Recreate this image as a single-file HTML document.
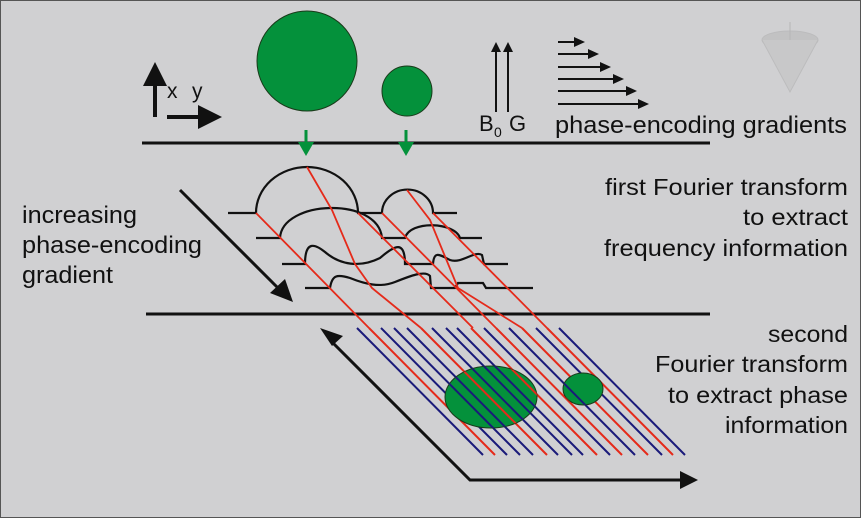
<!DOCTYPE html>
<html><head><style>
html,body{margin:0;padding:0;background:#d0d0d2;}
svg{display:block;}
text{font-family:"Liberation Sans",Arial,sans-serif;fill:#111;}
</style></head><body>
<svg width="861" height="518" viewBox="0 0 861 518" xmlns="http://www.w3.org/2000/svg">
<defs>
<marker id="ah" markerWidth="6" markerHeight="6" refX="5" refY="3" orient="auto" markerUnits="strokeWidth"><path d="M0,0 L6,3 L0,6 z" fill="#111"/></marker>
</defs>
<rect x="0.5" y="0.5" width="860" height="517" fill="#d0d0d2" stroke="#555" stroke-width="1"/>

<line x1="155" y1="117" x2="155" y2="66" stroke="#111" stroke-width="4" marker-end="url(#ah)"/>
<line x1="167" y1="117" x2="218" y2="117" stroke="#111" stroke-width="4" marker-end="url(#ah)"/>
<text x="167" y="98" font-size="21">x</text>
<text x="192" y="98" font-size="21">y</text>

<circle cx="307" cy="61" r="50" fill="#04913b" stroke="#1a3a1a" stroke-width="1"/>
<circle cx="407" cy="91" r="25" fill="#04913b" stroke="#1a3a1a" stroke-width="1"/>

<line x1="142" y1="143" x2="710" y2="143" stroke="#111" stroke-width="3"/>
<line x1="306" y1="130" x2="306" y2="146" stroke="#04913b" stroke-width="3"/>
<path d="M298,142 L314,142 L306,156 z" fill="#04913b"/>
<line x1="406" y1="130" x2="406" y2="146" stroke="#04913b" stroke-width="3"/>
<path d="M398,142 L414,142 L406,156 z" fill="#04913b"/>

<line x1="496" y1="112" x2="496" y2="48" stroke="#111" stroke-width="2"/>
<path d="M491,52 L496,42 L501,52 z" fill="#111"/>
<line x1="508" y1="112" x2="508" y2="48" stroke="#111" stroke-width="2"/>
<path d="M503,52 L508,42 L513,52 z" fill="#111"/>
<text x="479" y="131" font-size="22">B</text>
<text x="494" y="137" font-size="14">0</text>
<text x="509" y="131" font-size="22">G</text>

<g stroke="#111" stroke-width="2" fill="#111">
<line x1="558" y1="42" x2="576" y2="42"/><path d="M574,37 L585,42 L574,47 z" stroke="none"/>
<line x1="558" y1="54" x2="590" y2="54"/><path d="M588,49 L599,54 L588,59 z" stroke="none"/>
<line x1="558" y1="67" x2="602" y2="67"/><path d="M600,62 L611,67 L600,72 z" stroke="none"/>
<line x1="558" y1="79" x2="615" y2="79"/><path d="M613,74 L624,79 L613,84 z" stroke="none"/>
<line x1="558" y1="91" x2="628" y2="91"/><path d="M626,86 L637,91 L626,96 z" stroke="none"/>
<line x1="558" y1="104" x2="640" y2="104"/><path d="M638,99 L649,104 L638,109 z" stroke="none"/>
</g>
<text x="555" y="133" font-size="24" textLength="292" lengthAdjust="spacingAndGlyphs">phase-encoding gradients</text>

<g opacity="0.35" stroke="#999" fill="#aaa">
<ellipse cx="790" cy="40" rx="28" ry="9"/>
<path d="M762,40 L790,92 L818,40" fill="#bbb"/>
<line x1="790" y1="40" x2="790" y2="22" stroke="#888"/>
</g>

<g font-size="23" text-anchor="end" lengthAdjust="spacingAndGlyphs">
<text x="848" y="195" textLength="243" lengthAdjust="spacingAndGlyphs">first Fourier transform</text>
<text x="848" y="225" textLength="105" lengthAdjust="spacingAndGlyphs">to extract</text>
<text x="848" y="256" textLength="244" lengthAdjust="spacingAndGlyphs">frequency information</text>
<text x="848" y="342" textLength="80" lengthAdjust="spacingAndGlyphs">second</text>
<text x="848" y="372" textLength="193" lengthAdjust="spacingAndGlyphs">Fourier transform</text>
<text x="848" y="403" textLength="180" lengthAdjust="spacingAndGlyphs">to extract phase</text>
<text x="848" y="433" textLength="123" lengthAdjust="spacingAndGlyphs">information</text>
</g>
<g font-size="24">
<text x="22" y="223" textLength="115" lengthAdjust="spacingAndGlyphs">increasing</text>
<text x="22" y="253" textLength="180" lengthAdjust="spacingAndGlyphs">phase-encoding</text>
<text x="22" y="283" textLength="91" lengthAdjust="spacingAndGlyphs">gradient</text>
</g>

<line x1="180" y1="190" x2="282" y2="292" stroke="#111" stroke-width="3"/>
<path d="M270,293 L293,302 L285,279 z" fill="#111"/>

<line x1="146" y1="314" x2="710" y2="314" stroke="#111" stroke-width="3"/>

<g fill="none" stroke="#111" stroke-width="2.2">
<path d="M228,213 L256,213 A51,46 0 0 1 358,213 L382,213 A25,23 0 0 1 433,213 L457,213"/>
<path d="M256,238 L280,238 C282,200 378,196 382,238 L405,238 C410,220 455,222 460,238 L482,238"/>
<path d="M282,264 L305,264 C305,240 315,244 325,252 C340,265 360,268 380,258 C395,245 405,240 405,264 L433,264 C434,250 440,255 450,260 C462,264 475,250 482,255 L484,264 L508,264"/>
<path d="M305,288 L330,288 C332,275 337,274 350,278 C365,284 380,288 395,282 C410,276 425,270 430,276 L431,288 L455,288 L458,283 L483,283 L486,288 L533,288"/>
</g>

<g stroke-width="2">
<line x1="357" y1="328" x2="483" y2="455" stroke="#1a1a7a"/>
<line x1="369" y1="328" x2="495" y2="455" stroke="#e52a1a"/>
<line x1="381" y1="328" x2="507" y2="455" stroke="#1a1a7a"/>
<line x1="394" y1="328" x2="520" y2="455" stroke="#1a1a7a"/>
<line x1="407" y1="328" x2="533" y2="455" stroke="#1a1a7a"/>
<line x1="421" y1="328" x2="547" y2="455" stroke="#e52a1a"/>
<line x1="432" y1="328" x2="558" y2="455" stroke="#1a1a7a"/>
<line x1="446" y1="328" x2="572" y2="455" stroke="#1a1a7a"/>
<line x1="457" y1="328" x2="583" y2="455" stroke="#1a1a7a"/>
<line x1="471" y1="328" x2="597" y2="455" stroke="#e52a1a"/>
<line x1="484" y1="328" x2="610" y2="455" stroke="#1a1a7a"/>
<line x1="496" y1="328" x2="622" y2="455" stroke="#e52a1a"/>
<line x1="509" y1="328" x2="635" y2="455" stroke="#1a1a7a"/>
<line x1="522" y1="328" x2="648" y2="455" stroke="#e52a1a"/>
<line x1="536" y1="328" x2="662" y2="455" stroke="#1a1a7a"/>
<line x1="547" y1="328" x2="673" y2="455" stroke="#e52a1a"/>
<line x1="559" y1="328" x2="685" y2="455" stroke="#1a1a7a"/>
</g>
<ellipse cx="491" cy="397" rx="46" ry="31" fill="#04913b" stroke="#1a3a1a" stroke-width="1"/>
<ellipse cx="583" cy="389" rx="20" ry="16" fill="#04913b" stroke="#1a3a1a" stroke-width="1"/>
<clipPath id="c1"><ellipse cx="491" cy="397" rx="46" ry="31"/><ellipse cx="583" cy="389" rx="20" ry="16"/></clipPath>
<g stroke-width="2" clip-path="url(#c1)">
<line x1="394" y1="328" x2="520" y2="455" stroke="#1a1a7a"/>
<line x1="407" y1="328" x2="533" y2="455" stroke="#1a1a7a"/>
<line x1="421" y1="328" x2="547" y2="455" stroke="#e52a1a"/>
<line x1="432" y1="328" x2="558" y2="455" stroke="#1a1a7a"/>
<line x1="446" y1="328" x2="572" y2="455" stroke="#1a1a7a"/>
<line x1="457" y1="328" x2="583" y2="455" stroke="#1a1a7a"/>
<line x1="471" y1="328" x2="597" y2="455" stroke="#e52a1a"/>
<line x1="484" y1="328" x2="610" y2="455" stroke="#1a1a7a"/>
<line x1="496" y1="328" x2="622" y2="455" stroke="#e52a1a"/>
<line x1="509" y1="328" x2="635" y2="455" stroke="#1a1a7a"/>
</g>

<g fill="none" stroke="#e52a1a" stroke-width="1.8">
<polyline points="256,213 369,328"/>
<polyline points="307,167 332,210 355,264 372,288 421,328"/>
<polyline points="358,213 473,328"/>
<polyline points="382,213 496,328"/>
<polyline points="407,190 430,220 458,288 522,328"/>
<polyline points="433,213 547,328"/>
</g>

<polyline points="332,342 470,480 685,480" fill="none" stroke="#111" stroke-width="3"/>
<path d="M320,328 L343,336 L332,346 z" fill="#111"/>
<path d="M680,471 L698,480 L680,489 z" fill="#111"/>
</svg>
</body></html>
